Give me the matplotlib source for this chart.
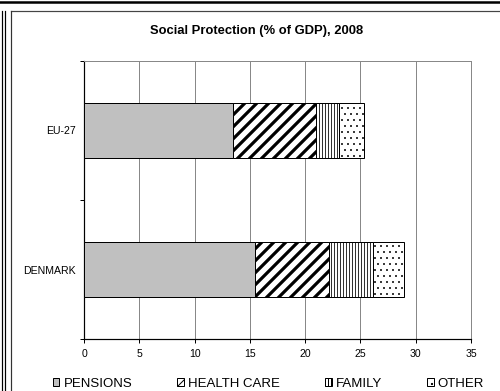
import matplotlib
matplotlib.use("Agg")
import matplotlib.pyplot as plt
from matplotlib.lines import Line2D
import numpy as np

plt.rcParams['font.family'] = ['Liberation Sans', 'DejaVu Sans']

categories = ["DENMARK", "EU-27"]
series_names = ["PENSIONS", "HEALTH CARE", "FAMILY", "OTHER"]
pensions = [15.5, 13.5]
health_care = [6.7, 7.5]
family = [3.9, 2.1]
other = [2.8, 2.2]
x_ticks = [0, 5, 10, 15, 20, 25, 30, 35]
title = "Social Protection (% of GDP), 2008"

series = [pensions, health_care, family, other]
faces = ["#C0C0C0", "white", "white", "white"]
hatches = [None, "//", "||||", ".."]
hlw = [1.0, 3.2, 0.8, 0.7]

DPI = 72
W, H = 500, 391
fig = plt.figure(figsize=(W / DPI, H / DPI), dpi=DPI)
ax = fig.add_axes([84 / W, 1 - 339 / H, (471 - 84) / W, (339 - 61) / H])

y = np.arange(len(categories))
left = np.zeros(len(categories))
handles = []
for vals, fc, ht, lw, name in zip(series, faces, hatches, hlw, series_names):
    with plt.rc_context({'hatch.linewidth': lw, 'hatch.color': 'black'}):
        bars = ax.barh(y, vals, left=left, height=0.4, color=fc,
                       edgecolor='black', linewidth=1.0, hatch=ht, zorder=3,
                       label=name)
        for b in bars:
            if hasattr(b, "set_hatch_linewidth"):
                b.set_hatch_linewidth(lw)
    handles.append(bars)
    left = left + np.array(vals)

ax.set_xlim(0, 35)
ax.set_ylim(-0.5, 1.5)
ax.set_xticks(x_ticks)
ax.set_xticklabels([str(t) for t in x_ticks], fontsize=10.5)
ax.set_yticks(y)
ax.set_yticklabels(categories, fontsize=10.5)
ax.tick_params(axis='y', which='major', length=0, pad=8)
ax.set_yticks([-0.5, 0.5, 1.5], minor=True)
ax.tick_params(axis='y', which='minor', length=4, width=1, direction='out')
ax.tick_params(axis='x', length=4, width=1, direction='out', pad=6)
ax.grid(axis='x', color='#888888', linewidth=1, zorder=0)
ax.set_axisbelow(True)
for s in ['left', 'bottom']:
    ax.spines[s].set_color('black')
    ax.spines[s].set_linewidth(1.2)
for s in ['top', 'right']:
    ax.spines[s].set_color('#888888')
    ax.spines[s].set_linewidth(1)

fig.text(257 / W, 1 - 31 / H, title, ha='center', va='center',
         fontsize=13, fontweight='bold')

leg = fig.legend(handles=handles, labels=series_names, loc='center',
                 bbox_to_anchor=(268.5 / W, 1 - 384 / H), ncol=4, frameon=False,
                 fontsize=13.3, handlelength=0.5, handleheight=0.5,
                 handletextpad=0.3, columnspacing=3.4, borderpad=0)

# outer frame decorations
def px_line(x0, y0, x1, y1, color='black', lw=1.0):
    fig.add_artist(Line2D([x0 / W, x1 / W], [1 - y0 / H, 1 - y1 / H],
                          transform=fig.transFigure, color=color, linewidth=lw))

px_line(0, 1.5, 500, 1.5, lw=2.5)
px_line(11, 11, 500, 11, color='#444444', lw=1.2)
px_line(11, 11, 11, 391, color='#333333', lw=1.2)
px_line(2, 11, 2, 391, lw=1.2)
px_line(5, 11, 5, 391, lw=1.2)

fig.savefig("out.png", dpi=DPI)
